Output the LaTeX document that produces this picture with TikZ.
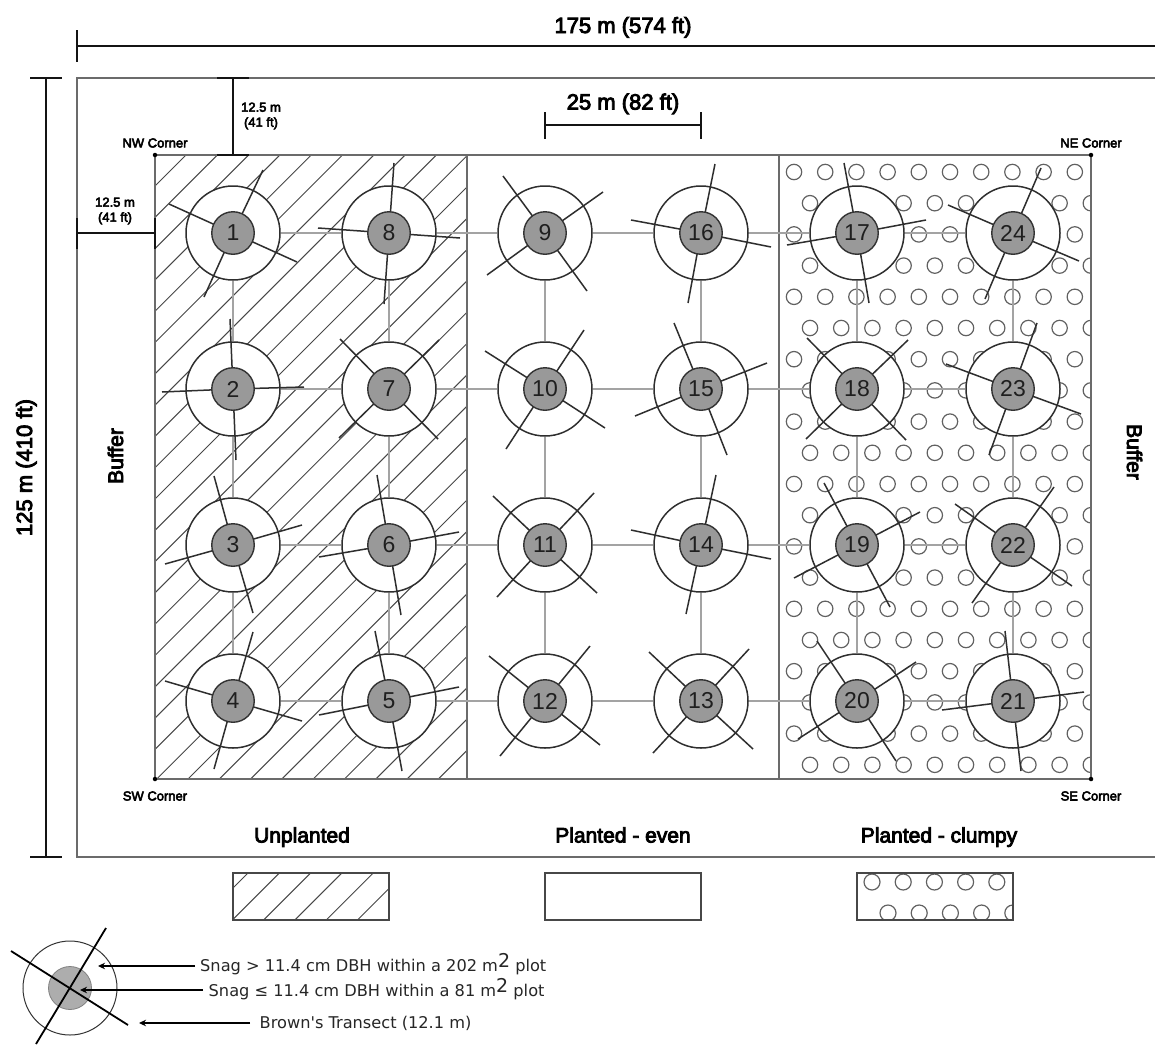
\documentclass[tikz,border=0pt]{standalone}
\usepackage{fontspec}
\setmainfont{Liberation Sans}
\newfontfamily\semi[RawFeature={embolden=4}]{Liberation Sans}
\newfontfamily\verd{DejaVu Sans}
\usetikzlibrary{arrows.meta}
\tikzset{
  frameline/.style={draw=black!58,line width=1.2pt},
  dimline/.style={draw=black!92,line width=2.8pt},
  hatchline/.style={draw=black!72,line width=1pt},
  dotcircle/.style={draw=black!62,line width=1.2pt},
  gridline/.style={draw=black!36,line width=1.7pt},
  transect/.style={draw=black!82,line width=1.5pt},
  outerplot/.style={circle,draw=black!82,line width=1.5pt,fill=white,minimum size=94pt,inner sep=0pt},
  innerplot/.style={circle,draw=black!80,line width=1.4pt,fill=black!40,text=black!88,minimum size=42.5pt,inner sep=0pt,font=\fontsize{23}{23}\selectfont},
  dimtext/.style={font=\semi\fontsize{22}{26}\selectfont,anchor=base},
  smalltext/.style={font=\semi\fontsize{13}{15}\selectfont,align=center},
  zonetext/.style={font=\semi\fontsize{21}{24}\selectfont,anchor=base},
  legtext/.style={font=\verd\fontsize{16.2}{18}\selectfont,anchor=base west,inner sep=0pt,text=black!85},
  cornerdot/.style={circle,fill=black,minimum size=4.5pt,inner sep=0pt},
  legarrow/.style={draw=black,line width=1.5pt,-{Stealth[length=7pt,width=6.5pt]}}
}
\newcommand{\sqm}{m\raisebox{0.45ex}{\fontsize{19}{19}\selectfont 2}}
\newcommand{\plotnode}[4]{%
  \node[outerplot] (o#1) at (#2,#3) {};
}
\newcommand{\plotrays}[4]{%
  \foreach \dx/\dy [count=\i] in {#4} {
    \coordinate (e#1-\i) at ({#2+\dx},{#3+\dy});
    \draw[transect] (#2,#3) -- (e#1-\i);
  }
  \node[innerplot] (p#1) at (#2,#3) {#1};
}
\begin{document}
\begin{tikzpicture}[x=1pt,y=-1pt]
\useasboundingbox (0,0) rectangle (1155,1044);
% site frame
\draw[frameline] (1155,78) -- (77,78) -- (77,857) -- (1155,857);
% hatch
\begin{scope}
\clip (155,155) rectangle (467,779);
\foreach \k in {0,...,29} {
  \pgfmathsetmacro{\s}{341+31.3*\k}
  \draw[hatchline] ({\s-155},155) -- ({\s-779},779);
}
\end{scope}
% clumpy circles
\begin{scope}
\clip (779,155) rectangle (1091,779);
\foreach \r in {0,2,...,18} {
  \foreach \c in {0,...,9} {
    \draw[dotcircle] ({794+31.2*\c},{172+31.2*\r}) circle (7.7);
    \draw[dotcircle] ({810+31.2*\c},{203.2+31.2*\r}) circle (7.7);
  }
}
\end{scope}
% zones
\draw[frameline] (155,155) rectangle (1091,779);
\draw[frameline] (467,155) -- (467,779);
\draw[frameline] (779,155) -- (779,779);
% outer plots
\foreach \n/\x/\y in {1/233/233,2/233/389,3/233/545,4/233/701,5/389/701,6/389/545,7/389/389,8/389/233,
 9/545/233,10/545/389,11/545/545,12/545/701,13/701/701,14/701/545,15/701/389,16/701/233,
 17/857/233,18/857/389,19/857/545,20/857/701,21/1013/701,22/1013/545,23/1013/389,24/1013/233}
 {\plotnode{\n}{\x}{\y}{}}
% grid
\foreach \a/\b in {1/2,2/3,3/4,8/7,7/6,6/5,9/10,10/11,11/12,16/15,15/14,14/13,17/18,18/19,19/20,24/23,23/22,22/21,
 1/8,8/9,9/16,16/17,17/24,2/7,7/10,10/15,15/18,18/23,3/6,6/11,11/14,14/19,19/22,4/5,5/12,12/13,13/20,20/21}
 {\draw[gridline] (o\a) -- (o\b);}
% rays and inner plots
\plotrays{1}{233}{233}{30/-63,-64/-29,64/29,-29/64}
\plotrays{8}{389}{233}{5/-70,-71/-5,71/5,-5/71}
\plotrays{2}{233}{389}{-3/-70,-71/3,71/-2,3/71}
\plotrays{7}{389}{389}{-49/-50,50/-49,49/50,-50/49}
\plotrays{3}{233}{545}{-19/-69,69/-20,20/68,-68/19}
\plotrays{6}{389}{545}{-12/-70,70/-13,12/70,-70/12}
\plotrays{4}{233}{701}{20/-69,-68/-20,69/20,-19/68}
\plotrays{5}{389}{701}{-14/-70,70/-14,13/70,-70/14}
\plotrays{9}{545}{233}{-42/-57,58/-41,42/58,-58/42}
\plotrays{16}{701}{233}{14/-69,-70/-13,70/14,-13/70}
\plotrays{10}{545}{389}{39/-59,-60/-38,60/39,-39/60}
\plotrays{15}{701}{389}{-27/-66,66/-26,26/66,-66/27}
\plotrays{11}{545}{545}{-52/-49,49/-52,52/48,-48/52}
\plotrays{14}{701}{545}{15/-70,-70/-15,70/14,-15/69}
\plotrays{12}{545}{701}{45/-55,-56/-45,55/44,-45/55}
\plotrays{13}{701}{701}{48/-52,-52/-49,52/48,-48/52}
\plotrays{17}{857}{233}{-13/-70,69/-13,12/70,-70/12}
\plotrays{24}{1013}{233}{28/-65,-65/-28,66/28,-28/66}
\plotrays{18}{857}{389}{-50/-51,51/-49,49/51,-51/50}
\plotrays{23}{1013}{389}{24/-66,-67/-25,68/25,-24/66}
\plotrays{19}{857}{545}{-33/-62,63/-33,33/62,-63/33}
\plotrays{22}{1013}{545}{41/-58,-58/-41,59/41,-41/58}
\plotrays{20}{857}{701}{-40/-60,59/-39,39/60,-59/38}
\plotrays{21}{1013}{701}{-8/-70,71/-9,8/70,-71/9}
% dimensions
\coordinate (tl) at (77,46); \coordinate (tr) at (1155,46);
\draw[dimline] (tl) -- (tr); \draw[dimline] (77,30) -- (77,62);
\coordinate (lt) at (46,78); \coordinate (lb) at (46,857);
\draw[dimline] (lt) -- (lb); \draw[dimline] (30,78) -- (62,78); \draw[dimline] (30,857) -- (62,857);
\coordinate (at) at (233,78); \coordinate (ab) at (233,155);
\draw[dimline] (at) -- (ab); \draw[dimline] (217,78) -- (249,78); \draw[dimline] (217,155) -- (249,155);
\coordinate (bl) at (77,233); \coordinate (br) at (155,233);
\draw[dimline] (bl) -- (br); \draw[dimline] (77,218) -- (77,249); \draw[dimline] (155,218) -- (155,249);
\coordinate (cl) at (545,125); \coordinate (cr) at (701,125);
\draw[dimline] (cl) -- (cr); \draw[dimline] (545,112) -- (545,139); \draw[dimline] (701,112) -- (701,139);
\node[dimtext] (t175) at (623,33) {175 m (574 ft)};
\node[dimtext] (t25) at (623,109.5) {25 m (82 ft)};
\node[dimtext,rotate=90] (t125) at (32,467.5) {125 m (410 ft)};
\node[smalltext] (ta) at (261,116) {12.5 m\\(41 ft)};
\node[smalltext] (tb) at (115,211) {12.5 m\\(41 ft)};
% corners
\node[cornerdot] (nw) at (155,155) {}; \node[cornerdot] (ne) at (1091,155) {};
\node[cornerdot] (sw) at (155,779) {}; \node[cornerdot] (se) at (1091,779) {};
\node[smalltext] (nwt) at (155,143) {NW Corner};
\node[smalltext] (net) at (1091,143) {NE Corner};
\node[smalltext] (swt) at (155,796) {SW Corner};
\node[smalltext] (set) at (1091,796) {SE Corner};
\node[zonetext,rotate=90] (bufl) at (123,456) {Buffer};
\node[zonetext,rotate=270] (bufr) at (1127,452) {Buffer};
\node[zonetext] (z1) at (302,842.5) {Unplanted};
\node[zonetext] (z2) at (623,842.5) {Planted - even};
\node[zonetext] (z3) at (939,842.5) {Planted - clumpy};
% legend swatches
\begin{scope}
\clip (233,873) rectangle (389,920);
\foreach \k in {0,...,8} {
  \pgfmathsetmacro{\s}{1121+31.3*\k}
  \draw[hatchline] ({\s-873},873) -- ({\s-920},920);
}
\end{scope}
\draw[hatchline,line width=1.1pt] (233,873) rectangle (389,920);
\draw[hatchline,line width=1.1pt] (545,873) rectangle (701,920);
\begin{scope}
\clip (857,873) rectangle (1013,920);
\foreach \c in {0,...,4} {
  \draw[dotcircle] ({872+31.2*\c},882) circle (8);
  \draw[dotcircle] ({888+31.2*\c},913) circle (8);
}
\end{scope}
\draw[hatchline,line width=1.1pt] (857,873) rectangle (1013,920);
% legend symbol
\node[circle,draw=black!80,line width=1pt,minimum size=94pt,inner sep=0pt] (lego) at (70,988) {};
\node[circle,draw=black!50,line width=0.8pt,fill=black!32,minimum size=43pt,inner sep=0pt] (legi) at (70,988) {};
\coordinate (s1a) at (106,928); \coordinate (s1b) at (36,1044);
\coordinate (s2a) at (11,951); \coordinate (s2b) at (128,1025);
\draw[draw=black,line width=1.8pt] (s1a) -- (s1b);
\draw[draw=black,line width=1.8pt] (s2a) -- (s2b);
\node[legtext] (l1) at (200,971.5) {Snag > 11.4 cm DBH within a 202 \sqm\ plot};
\node[legtext] (l2) at (208.5,996) {Snag ≤ 11.4 cm DBH within a 81 \sqm\ plot};
\node[legtext] (l3) at (259.5,1028) {Brown's Transect (12.1 m)};
\coordinate (a1) at (98,966); \coordinate (a2) at (80,990); \coordinate (a3) at (139,1023);
\coordinate (b1) at (195,966); \coordinate (b2) at (203,990); \coordinate (b3) at (250,1023);
\draw[legarrow] (b1) -- (a1);
\draw[legarrow] (b2) -- (a2);
\draw[legarrow] (b3) -- (a3);
\end{tikzpicture}
\end{document}
